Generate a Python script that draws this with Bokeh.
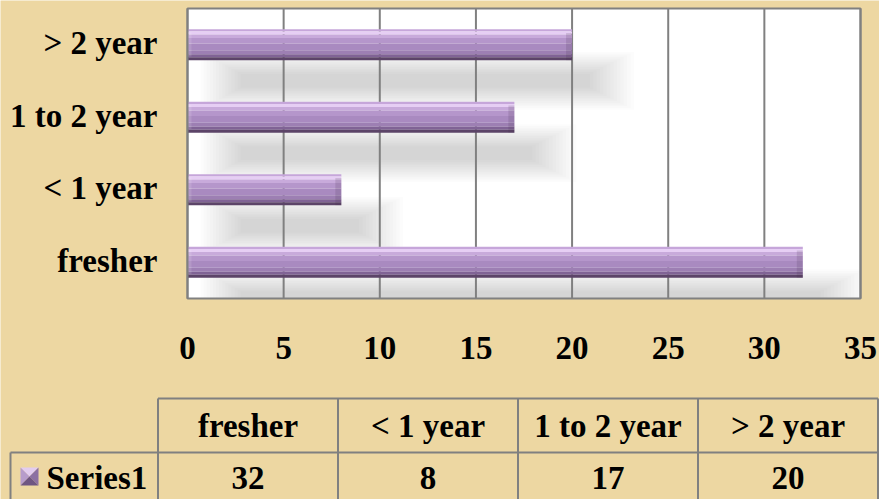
from bokeh.plotting import figure
from bokeh.models import Range1d
from bokeh.embed import file_html
from bokeh.resources import INLINE
from bokeh.core.properties import value

# ---- data ----
categories = ["fresher", "< 1 year", "1 to 2 year", "> 2 year"]
values = [32, 8, 17, 20]
series_name = "Series1"
x_ticks = [0, 5, 10, 15, 20, 25, 30, 35]

# ---- style / layout ----
BG = "#EDD7A2"
GRID = "#808080"
FONT = "Liberation Serif"
FS = "33px"
W, H = 879, 499
X_MAX = 35
# plot area in page pixels
PL, PR, PT, PB = 187, 860, 8, 298
ppu = (PR - PL) / X_MAX
slot = (PB - PT) / len(categories)


def X(px):
    return (px - PL) / ppu


def Y(py):
    return (PB - py) / slot - 0.5


idx = list(range(len(categories)))

p = figure(width=W, height=H,
           x_range=Range1d(X(0), X(W)), y_range=Range1d(Y(H), Y(0)),
           x_axis_location=None, y_axis_location=None,
           output_backend="svg", toolbar_location=None, min_border=0)
p.background_fill_color = BG
p.border_fill_color = BG
p.outline_line_color = None
p.grid.visible = False

y_lo, y_hi = -0.5, len(categories) - 0.5

# plot area background
p.quad(left=[0], right=[X_MAX], bottom=[y_lo], top=[y_hi], fill_color="white", line_color=None)

# soft shadows (stacked translucent layers)
NL = 14
off = -36 / slot
for k in range(NL):
    f = k / (NL - 1)
    hh = (58 - 44 * f) / slot
    tops = [i + off + hh / 2 for i in idx]
    bots = [max(i + off - hh / 2, y_lo) for i in idx]
    lefts = [X(200 + 40 * f)] * len(values)
    rights = [min(v + (62 - 44 * f) / ppu, X_MAX) for v in values]
    p.quad(left=lefts, right=rights, top=tops, bottom=bots,
           fill_color="#000000", fill_alpha=0.013, line_color=None)

# vertical gridlines
p.segment(x0=x_ticks, x1=x_ticks, y0=[y_lo] * len(x_ticks), y1=[y_hi] * len(x_ticks),
          line_color=GRID, line_width=2)

# bars with bevel-like bands (fractions from top of bar)
bh = 31 / slot
bands = [(0.00, 0.07, "#C6A6DA"), (0.07, 0.17, "#E6CEF4"), (0.17, 0.28, "#C8AADB"),
         (0.28, 0.46, "#B596CB"), (0.46, 0.68, "#A98AC0"), (0.68, 0.81, "#9D7FB3"),
         (0.81, 0.90, "#806395"), (0.90, 1.00, "#5C4468")]
for f0, f1, col in bands:
    tops = [i + bh / 2 - f0 * bh for i in idx]
    bots = [i + bh / 2 - f1 * bh for i in idx]
    p.quad(left=[0] * len(values), right=values, top=tops, bottom=bots,
           fill_color=col, line_color=None)
# bevelled right end
p.quad(left=[v - 6 / ppu for v in values], right=values,
       top=[i + bh / 2 - 0.12 * bh for i in idx], bottom=[i - bh / 2 for i in idx],
       fill_color="#3A2545", fill_alpha=0.15, line_color=None)
# lighter left end
p.quad(left=[0] * len(values), right=[4 / ppu] * len(values),
       top=[i + bh / 2 - 0.1 * bh for i in idx], bottom=[i - bh / 2 + 0.12 * bh for i in idx],
       fill_color="white", fill_alpha=0.12, line_color=None)

# plot area border
p.quad(left=[0], right=[X_MAX], bottom=[y_lo], top=[y_hi], fill_color=None,
       line_color=GRID, line_width=2)

txt = dict(text_font=value(FONT), text_font_style="bold", text_font_size=FS,
           text_color="black", text_baseline="middle")

# category labels (left)
p.text(x=[X(157)] * len(categories), y=[i + 1.5 / slot for i in idx], text=categories,
       text_align="right", **txt)
# value tick labels (below)
p.text(x=x_ticks, y=[Y(347)] * len(x_ticks), text=[str(t) for t in x_ticks],
       text_align="center", **txt)

# ---- data table ----
col_l, col_w = 157.5, 180
t_top, t_mid, t_bot = 398, 452, H + 5
n = len(categories)
vx = [col_l + i * col_w for i in range(n + 1)]
p.segment(x0=[X(col_l), X(10)], x1=[X(vx[-1]), X(vx[-1])],
          y0=[Y(t_top), Y(t_mid)], y1=[Y(t_top), Y(t_mid)],
          line_color=GRID, line_width=2)
p.segment(x0=[X(x) for x in vx] + [X(10)], x1=[X(x) for x in vx] + [X(10)],
          y0=[Y(t_top)] * len(vx) + [Y(t_mid)], y1=[Y(t_bot)] * (len(vx) + 1),
          line_color=GRID, line_width=2)

cx = [X(col_l + (i + 0.5) * col_w) for i in range(n)]
p.text(x=cx, y=[Y(425)] * n, text=categories, text_align="center", **txt)
p.text(x=cx, y=[Y(477)] * n, text=[str(v) for v in values], text_align="center", **txt)
p.text(x=[X(46)], y=[Y(477)], text=[series_name], text_align="left", **txt)

# legend swatch (pyramid bevel square)
sx, sy, s = 29, 476, 9
p.patches(xs=[[X(sx - s), X(sx + s), X(sx)], [X(sx - s), X(sx - s), X(sx)],
              [X(sx + s), X(sx + s), X(sx)], [X(sx - s), X(sx + s), X(sx)]],
          ys=[[Y(sy - s), Y(sy - s), Y(sy)], [Y(sy - s), Y(sy + s), Y(sy)],
              [Y(sy - s), Y(sy + s), Y(sy)], [Y(sy + s), Y(sy + s), Y(sy)]],
          fill_color=["#E2CCEF", "#B79CCB", "#8C70A2", "#6F5682"], line_color=None)

html = file_html(p, INLINE)
html = html.replace("<body>", '<body style="margin:0;overflow:hidden;background-color:%s;">' % BG, 1)
open("out.html", "w").write(html)
